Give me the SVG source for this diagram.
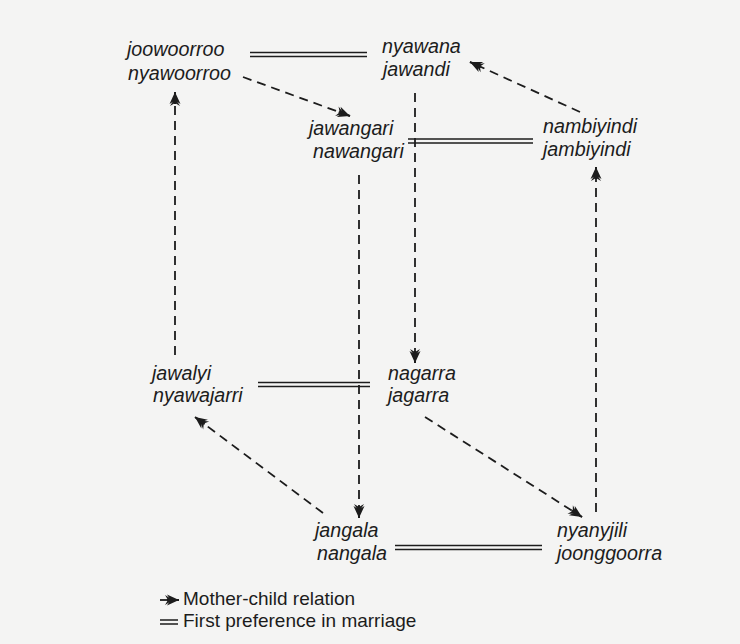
<svg xmlns="http://www.w3.org/2000/svg" width="740" height="644" viewBox="0 0 740 644">
<style>
  .lbl { font-family: "Liberation Sans", Arial, sans-serif; font-style: italic; font-size: 19.7px; fill: #1c1c1c; }
  .leg { font-family: "Liberation Sans", Arial, sans-serif; font-size: 19px; fill: #1c1c1c; }
  .mc { fill: none; stroke: #1c1c1c; stroke-width: 1.8; stroke-dasharray: 9 6; marker-end: url(#arr); }
  .dbl { fill: none; stroke: #1c1c1c; stroke-width: 1.4; }
</style>
<defs>
  <marker id="arr" markerUnits="userSpaceOnUse" markerWidth="18" markerHeight="14" viewBox="-15 -7 17 14" refX="0" refY="0" orient="auto">
    <path d="M0,0 L-12,-5.5 L-8.5,0 L-12,5.5 Z" fill="#1c1c1c"/>
    <path d="M-6,0 L-14,-5 L-11,0 L-14,5 Z" fill="#1c1c1c"/>
    <path d="M-12,0 H0" stroke="#1c1c1c" stroke-width="2"/>
  </marker>
</defs>
<rect width="740" height="644" fill="#f4f4f3"/>

<g id="connectors">
  <!-- mother-child relations -->
  <path class="mc" d="M243,77 L350,116"/>
  <path class="mc" d="M580,112 L470,62"/>
  <path class="mc" d="M415,93 L415,363"/>
  <path class="mc" d="M359,175 L359,518"/>
  <path class="mc" d="M175,355 L175,92"/>
  <path class="mc" d="M323,513 L195,417"/>
  <path class="mc" d="M425,417 L582,517"/>
  <path class="mc" d="M596,512 L596,167"/>
  <!-- first preference in marriage -->
  <path class="dbl" d="M250,52.5 H367 M250,56.5 H367"/>
  <path class="dbl" d="M408,139 H533 M408,143 H533"/>
  <path class="dbl" d="M258,382.5 H370 M258,386.5 H370"/>
  <path class="dbl" d="M395,545.5 H542 M395,549.5 H542"/>
</g>

<g id="joowoorroo">
  <text class="lbl" x="127" y="56">joowoorroo</text>
  <text class="lbl" x="128" y="80">nyawoorroo</text>
</g>
<g id="nyawana">
  <text class="lbl" x="382" y="53">nyawana</text>
  <text class="lbl" x="383" y="76">jawandi</text>
</g>
<g id="jawangari">
  <text class="lbl" x="309" y="135">jawangari</text>
  <text class="lbl" x="313" y="158">nawangari</text>
</g>
<g id="nambiyindi">
  <text class="lbl" x="543" y="133">nambiyindi</text>
  <text class="lbl" x="543" y="156">jambiyindi</text>
</g>
<g id="jawalyi">
  <text class="lbl" x="152" y="380">jawalyi</text>
  <text class="lbl" x="153" y="402">nyawajarri</text>
</g>
<g id="nagarra">
  <text class="lbl" x="388" y="380">nagarra</text>
  <text class="lbl" x="388" y="402">jagarra</text>
</g>
<g id="jangala">
  <text class="lbl" x="315" y="537">jangala</text>
  <text class="lbl" x="317" y="560">nangala</text>
</g>
<g id="nyanyjili">
  <text class="lbl" x="557" y="537">nyanyjili</text>
  <text class="lbl" x="557" y="560">joonggoorra</text>
</g>

<g id="legend">
  <path d="M160,600 H167" stroke="#1c1c1c" stroke-width="1.8"/>
  <path d="M172,600 H179" stroke="#1c1c1c" stroke-width="1.8" marker-end="url(#arr)"/>
  <path class="dbl" d="M160,620 H178 M160,624 H178"/>
  <text class="leg" x="183" y="605">Mother-child relation</text>
  <text class="leg" x="183" y="627">First preference in marriage</text>
</g>
</svg>
